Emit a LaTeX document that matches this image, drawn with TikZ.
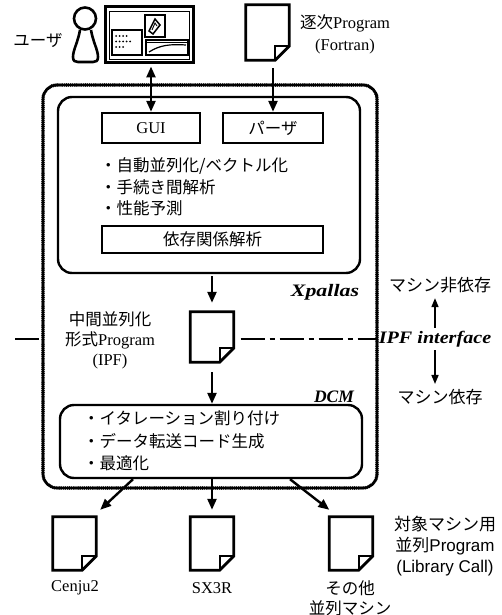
\documentclass[tikz,border=0pt]{standalone}
\usepackage{fontspec}
\usepackage{graphicx}
\setmainfont{Liberation Serif}
\newfontfamily\jp{Noto Sans CJK JP}
\newfontfamily\sansf{Liberation Sans}
\usetikzlibrary{arrows.meta}

% document icon: rectangle with a folded lower-right corner
\newcommand{\docfile}[3]{%
  \node[minimum width=43pt, minimum height=#3, inner sep=0pt] (#1) at (#2) {};
  \draw[docline] (#1.north west) -- (#1.north east) -- ([yshift=14pt]#1.south east)
    -- ([xshift=-14pt]#1.south east) -- (#1.south west) -- cycle;
  \draw[line width=1.6pt] ([yshift=14pt]#1.south east) -- ([xshift=-14pt,yshift=14pt]#1.south east)
    -- ([xshift=-14pt]#1.south east);
}

\begin{document}
\begin{tikzpicture}[x=1pt, y=-1pt,
  txt/.style={font=\fontsize{16.5}{21}\selectfont, inner sep=0pt},
  jtxt/.style={font=\jp\fontsize{16.5}{21}\selectfont, inner sep=0pt},
  emph/.style={font=\bfseries\itshape\fontsize{17.5}{20}\selectfont, inner sep=0pt},
  beaded/.style={draw, line width=3.8pt, dash pattern=on 0pt off 1.9pt, line cap=round, rounded corners=14pt},
  panel/.style={draw, line width=2.4pt, rounded corners=14pt, inner sep=0pt},
  box/.style={draw, line width=2.4pt, inner sep=0pt},
  tip/.style={},
  arr/.style={line width=2.4pt, -{Triangle[length=11pt,width=9pt]}},
  darr/.style={line width=2.4pt, {Triangle[length=11pt,width=9pt]}-{Triangle[length=11pt,width=9pt]}},
  thinarr/.style={line width=1.6pt, -{Triangle[length=9pt,width=7pt]}},
  docline/.style={line width=2.8pt, line join=miter},
  ifline/.style={line width=1.1pt, dash pattern=on 24pt off 5pt on 5pt off 5pt},
]
\useasboundingbox (0,0) rectangle (501,615);

% ---- user pictogram and screen ----
\node[jtxt] (user) at (38,40) {ユーザ};
\draw[line width=2.6pt] (85,18.5) circle[radius=11];
\draw[line width=2.6pt] (80,30) .. controls (78,42) and (73,50) .. (73,57)
  .. controls (73,61) and (75,62) .. (78,62) -- (93,62)
  .. controls (96,62) and (98,61) .. (98,57) .. controls (98,50) and (93,42) .. (91,30);

\node[draw, line width=3pt, minimum width=88pt, minimum height=56pt, inner sep=0pt] (screen) at (149,35) {};
\draw[line width=0.7pt] (109,11) rectangle (189,59);
\draw[line width=1.2pt] (112,30) rectangle (142,55);
\foreach \x in {116,119.5,123,126.5} \fill (\x,36) circle[radius=1];
\foreach \x in {116,119.5,123,126.5,130} \fill (\x,41.5) circle[radius=1];
\foreach \x in {116,119.5,123} \fill (\x,47) circle[radius=1];
\draw[line width=1.2pt] (145,15) rectangle (165,37);
\draw[line width=1.5pt] (149,31) -- (155,19) -- (160,25) -- (153,34) -- cycle;
\draw[line width=0.9pt] (152,30) -- (155,23) -- (157,26);
\draw[line width=1.2pt] (146,40) rectangle (188,55);
\draw[line width=0.7pt] (146,42.5) -- (188,42.5);
\draw[line width=1.2pt] (149,52) .. controls (160,45) and (170,44) .. (186,45);

% ---- sequential program ----
\docfile{seqdoc}{267.5,32.5}{55pt}
\node[txt, align=center, font=\fontsize{16.5}{22}\selectfont] (seqlbl) at (345,34) {{\jp 逐次}Program\\(Fortran)};

% ---- outer system frame ----
\node[beaded, minimum width=334pt, minimum height=403pt, inner sep=0pt] (outer) at (210,286.5) {};

% ---- Xpallas ----
\node[panel, minimum width=302pt, minimum height=176pt] (xp) at (209,185) {};
\node[box, txt, minimum width=98pt, minimum height=30pt] (gui) at (151,128) {GUI};
\node[box, jtxt, minimum width=100pt, minimum height=30pt] (parser) at (273,128) {パーザ};
\node[jtxt, anchor=west, align=left, font=\jp\fontsize{16.5}{21.5}\selectfont] (xplist) at (100,187)
  {・自動並列化/ベクトル化\\・手続き間解析\\・性能予測};
\node[box, jtxt, minimum width=221pt, minimum height=27pt] (depan) at (212.5,239.5) {依存関係解析};
\node[emph] (xplbl) at (325,292) {\scalebox{1.25}[1]{Xpallas}};

\draw[darr, shorten <=2pt] (gui.north |- screen.south) -- (gui.north);
\draw[arr, shorten <=8pt] (parser.north |- seqdoc.south) -- (parser.north);

% ---- intermediate program ----
\docfile{ipf}{212,337}{50pt}
\node[txt, align=center, font=\fontsize{16.5}{20}\selectfont] (ipflbl) at (110,340)
  {{\jp 中間並列化}\\{\jp 形式}Program\\(IPF)};
\draw[arr, shorten <=2pt, shorten >=9pt] (ipf.north |- xp.south) -- (ipf.north);

% ---- IPF interface line ----
\coordinate (ifl) at (15,339);
\node[emph] (iftext) at (435,339) {\scalebox{1.15}[1]{IPF interface}};
\draw[ifline] (ifl) -- (outer.west |- ifl);
\draw[ifline] ([xshift=7pt]ipf.east |- iftext.west) -- ([xshift=-2pt]iftext.west);
\node[jtxt, font=\jp\fontsize{17}{21}\selectfont] (indep) at (440,285) {マシン非依存};
\node[jtxt, font=\jp\fontsize{17}{21}\selectfont] (dep) at (440,397) {マシン依存};
\draw[thinarr, shorten <=3pt, shorten >=5pt] (iftext.north) -- (iftext.north |- indep.south);
\draw[thinarr, shorten <=3pt, shorten >=5pt] (iftext.south) -- (iftext.south |- dep.north);

% ---- DCM ----
\node[emph] (dcmlbl) at (334,397) {DCM};
\node[panel, minimum width=302pt, minimum height=73pt] (dcm) at (211,441.5) {};
\node[jtxt, anchor=west, align=left, font=\jp\fontsize{16.5}{22.5}\selectfont] (dcmlist) at (83,441)
  {・イタレーション割り付け\\・データ転送コード生成\\・最適化};
\draw[arr, shorten <=10pt] (ipf.south) -- (ipf.south |- dcm.north);

% ---- target programs ----
\docfile{cenju}{74.5,543.5}{53pt}
\docfile{sx}{212,543.5}{53pt}
\docfile{other}{351,543.5}{53pt}
\draw[arr] ([xshift=-78pt]dcm.south) -- ([shift={(4pt,7pt)}]cenju.north east);
\draw[arr, shorten >=7pt] (sx.north |- dcm.south) -- (sx.north);
\draw[arr] ([xshift=79pt]dcm.south) -- ([yshift=7pt]other.north west);

\node[txt] (cenjulbl) at (75,588) {Cenju2};
\node[txt] (sxlbl) at (212,588) {SX3R};
\node[jtxt, align=center, font=\jp\fontsize{16.5}{20}\selectfont] (otherlbl) at (350,598) {その他\\並列マシン};
\node[align=center, inner sep=0pt, font=\sansf\fontsize{17}{21}\selectfont] (targetlbl) at (445,546)
  {{\jp 対象マシン用}\\{\jp 並列}Program\\(Library Call)};
\end{tikzpicture}
\end{document}
